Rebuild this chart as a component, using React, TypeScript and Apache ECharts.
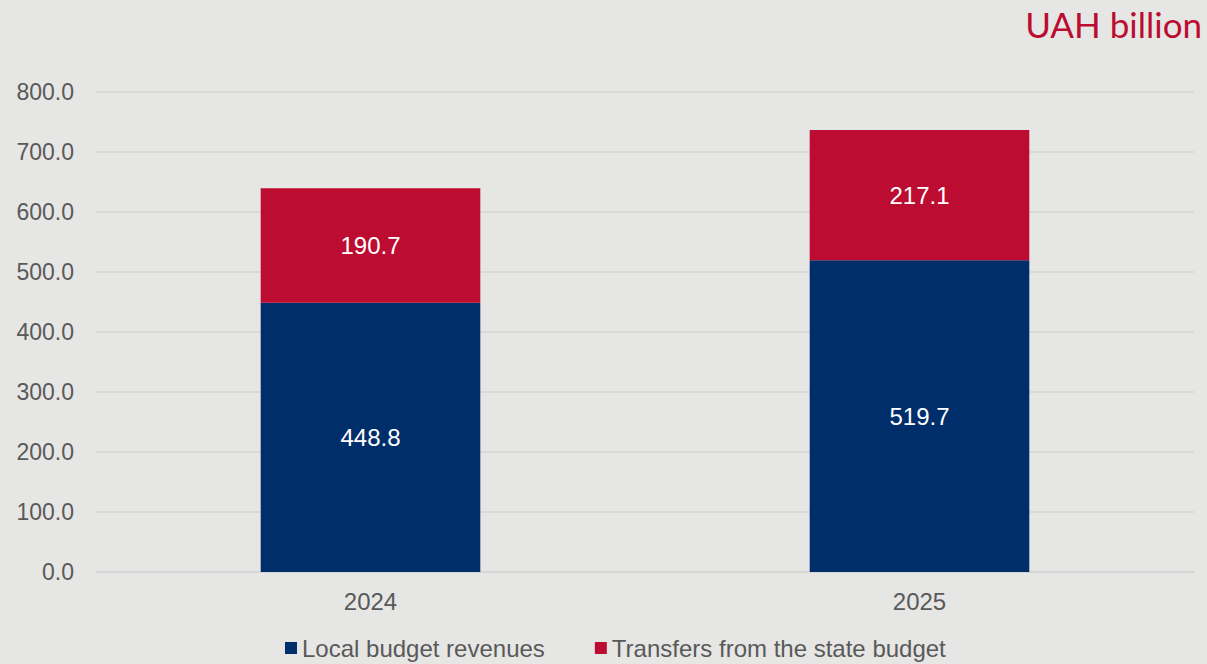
import React, { useEffect, useRef } from "react";
import * as echarts from "echarts";

const categories = ["2024", "2025"];
const localRevenues = [448.8, 519.7];
const transfers = [190.7, 217.1];
const seriesNames = ["Local budget revenues", "Transfers from the state budget"];
const yTicks = { min: 0, max: 800, interval: 100 };
const unitTitle = "UAH billion";

export default function App() {
  const ref = useRef<HTMLDivElement>(null);
  useEffect(() => {
    if (!ref.current) return;
    const chart = echarts.init(ref.current, null, { renderer: "svg" });
    const font = "'Liberation Sans', Arial, sans-serif";
    const labelCfg = {
      show: true,
      position: "inside",
      color: "#ffffff",
      fontSize: 24,
      fontFamily: font,
      formatter: (p: any) => p.value.toFixed(1),
    };
    chart.setOption({
      animation: false,
      backgroundColor: "#e6e6e4",
      textStyle: { fontFamily: font },
      title: {
        text: unitTitle,
        right: 0,
        top: 1,
        textStyle: { color: "#bc0c31", fontSize: 35, fontWeight: "normal", fontFamily: "Lato, 'Open Sans', sans-serif" },
      },
      grid: { left: 96, right: 13, top: 92, bottom: 92 },
      legend: {
        top: 631,
        left: 280,
        itemWidth: 12,
        itemHeight: 12,
        itemGap: 50,
        icon: "rect",
        textStyle: { color: "#595959", fontSize: 24, fontFamily: font },
        data: seriesNames,
      },
      xAxis: {
        type: "category",
        data: categories,
        axisLine: { show: true, lineStyle: { color: "#d4d4d4", width: 1.5 } },
        axisTick: { show: false },
        axisLabel: { color: "#595959", fontSize: 24, margin: 17, fontFamily: font },
      },
      yAxis: {
        type: "value",
        min: yTicks.min,
        max: yTicks.max,
        interval: yTicks.interval,
        axisLine: { show: false },
        axisTick: { show: false },
        splitLine: { lineStyle: { color: "#d4d4d4", width: 1.5 } },
        axisLabel: {
          color: "#595959",
          fontSize: 23,
          margin: 22,
          fontFamily: font,
          formatter: (v: number) => v.toFixed(1),
        },
      },
      series: [
        {
          name: seriesNames[0],
          type: "bar",
          stack: "total",
          data: localRevenues,
          barWidth: "40%",
          itemStyle: { color: "#002e6b" },
          label: labelCfg,
        },
        {
          name: seriesNames[1],
          type: "bar",
          stack: "total",
          data: transfers,
          barWidth: "40%",
          itemStyle: { color: "#bc0c31" },
          label: labelCfg,
        },
      ],
    });
    return () => chart.dispose();
  }, []);
  return (
    <div
      ref={ref}
      style={{ position: "fixed", left: 0, top: 0, width: 1207, height: 664 }}
    />
  );
}
